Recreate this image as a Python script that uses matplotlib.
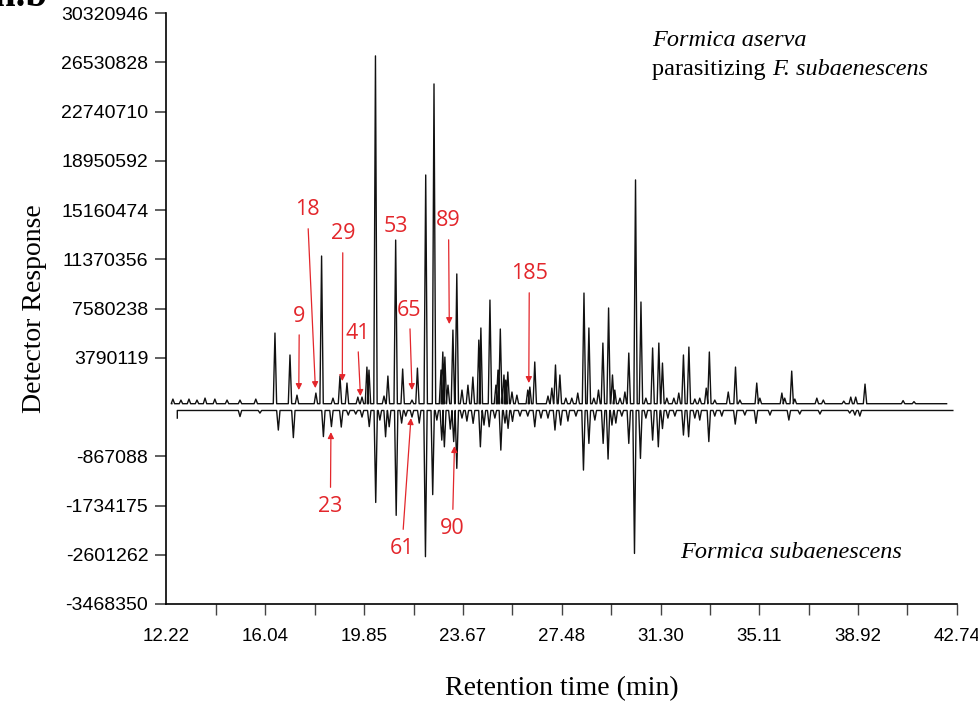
import matplotlib
matplotlib.use("Agg")
import matplotlib.pyplot as plt
import numpy as np

# retention time (min) and detector response of the peaks, upper trace
top_times = [12.47, 12.78, 13.09, 13.40, 13.71, 14.09, 14.56, 15.06, 15.67,
             16.41, 16.99, 17.26, 17.99, 18.21, 18.65, 18.92, 19.19, 19.61, 19.77,
             19.96, 20.04, 20.29, 20.62, 20.77, 21.07, 21.34, 21.70, 21.91, 22.23,
             22.55, 22.82, 22.89, 22.97, 23.09, 23.28, 23.43, 23.63, 23.86, 24.05,
             24.28, 24.36, 24.71, 24.94, 25.02, 25.11, 25.25, 25.32, 25.40, 25.56,
             25.75, 26.17, 26.25, 26.44, 26.95, 27.10, 27.24, 27.41, 27.64, 27.87,
             28.10, 28.34, 28.53, 28.72, 28.90, 29.07, 29.29, 29.44, 29.53, 29.73,
             29.92, 30.07, 30.33, 30.54, 30.73, 30.99, 31.23, 31.37, 31.54, 31.81,
             32.00, 32.18, 32.39, 32.62, 32.81, 33.06, 33.18, 33.39, 33.91, 34.19,
             34.36, 35.01, 35.13, 35.98, 36.09, 36.36, 36.48, 37.33, 37.58, 38.37,
             38.64, 38.83, 39.19, 40.66, 41.08]
top_resp = [616e3, 539e3, 616e3, 539e3, 693e3, 616e3, 539e3, 539e3, 616e3,
            5.70e6, 4.01e6, 0.92e6, 1.08e6, 11.63e6, 0.69e6, 2.39e6, 1.85e6, 0.77e6, 0.77e6,
            3.08e6, 2.85e6, 27.04e6, 0.85e6, 2.39e6, 12.86e6, 2.93e6, 0.54e6, 3.00e6, 17.87e6,
            24.88e6, 2.85e6, 4.24e6, 3.85e6, 1.69e6, 5.93e6, 10.25e6, 1.31e6, 1.69e6, 2.31e6,
            5.16e6, 6.09e6, 8.24e6, 1.69e6, 2.85e6, 6.01e6, 2.47e6, 2.08e6, 2.70e6, 1.16e6,
            0.92e6, 1.31e6, 1.54e6, 3.47e6, 0.85e6, 1.46e6, 3.24e6, 2.47e6, 0.69e6, 0.69e6,
            1.08e6, 8.78e6, 6.09e6, 0.69e6, 1.31e6, 4.93e6, 7.63e6, 2.47e6, 1.31e6, 0.69e6,
            1.16e6, 4.16e6, 17.49e6, 8.09e6, 0.69e6, 4.55e6, 4.93e6, 3.39e6, 0.69e6, 0.69e6,
            1.08e6, 4.01e6, 4.62e6, 0.62e6, 0.69e6, 1.46e6, 4.24e6, 0.54e6, 1.16e6, 3.08e6,
            0.54e6, 1.85e6, 0.69e6, 1.08e6, 0.69e6, 2.77e6, 0.62e6, 0.69e6, 0.54e6, 0.46e6,
            0.77e6, 0.77e6, 1.77e6, 0.50e6, 0.42e6]

# lower (mirrored) trace
bot_times = [15.06, 15.83, 16.54, 17.12, 18.28, 18.59, 18.97, 19.24, 19.53, 19.77,
             20.05, 20.30, 20.46, 20.68, 20.82, 21.09, 21.30, 21.46, 21.70, 21.98,
             22.22, 22.50, 22.66, 22.85, 22.95, 23.18, 23.31, 23.43, 23.63, 23.82,
             24.06, 24.34, 24.48, 24.68, 24.90, 25.13, 25.29, 25.41, 25.58, 25.87,
             26.17, 26.44, 26.68, 26.95, 27.22, 27.44, 27.72, 28.03, 28.32, 28.53,
             28.76, 29.08, 29.27, 29.42, 29.57, 29.80, 30.07, 30.29, 30.52, 30.73,
             30.99, 31.21, 31.37, 31.58, 31.85, 32.18, 32.38, 32.62, 32.81, 33.16,
             33.39, 33.66, 34.18, 34.55, 34.98, 35.52, 36.25, 36.67, 37.45, 38.60,
             38.80, 38.99]
bot_resp = [-167e3, -106e3, -405e3, -538e3, -520e3, -344e3, -352e3, -141e3, -123e3, -176e3,
            -344e3, -1680e3, -229e3, -523e3, -347e3, -1907e3, -282e3, -159e3, -176e3, -282e3,
            -2635e3, -1542e3, -229e3, -582e3, -700e3, -388e3, -608e3, -1079e3, -194e3, -247e3,
            -287e3, -700e3, -317e3, -347e3, -194e3, -758e3, -282e3, -375e3, -252e3, -159e3,
            -159e3, -347e3, -194e3, -194e3, -405e3, -317e3, -247e3, -159e3, -1110e3, -640e3,
            -229e3, -640e3, -916e3, -317e3, -282e3, -159e3, -640e3, -2578e3, -904e3, -194e3,
            -582e3, -700e3, -379e3, -194e3, -159e3, -493e3, -523e3, -194e3, -229e3, -608e3,
            -159e3, -159e3, -300e3, -141e3, -287e3, -141e3, -229e3, -123e3, -123e3, -106e3,
            -141e3, -159e3]

top_range = [12.43, 42.34]
bot_range = [12.64, 42.58]
top_base = 260e3
bot_base = -60e3

y_labels = ['30320946', '26530828', '22740710', '18950592', '15160474', '11370356',
            '7580238', '3790119', '-867088', '-1734175', '-2601262', '-3468350']
x_labels = ['12.22', '16.04', '19.85', '23.67', '27.48', '31.30', '35.11', '38.92', '42.74']

# compound labels: text, tip time, tip response, text time, text response
ann_text = ['9', '18', '29', '41', '65', '89', '185', '23', '61', '90']
ann_tip_t = [17.33, 17.97, 19.01, 19.71, 21.70, 23.14, 26.21, 18.57, 21.66, 23.34]
ann_tip_r = [1.31e6, 1.46e6, 2.00e6, 0.85e6, 1.31e6, 6.39e6, 1.85e6, -441e3, -194e3, -687e3]
ann_txt_t = [17.35, 17.66, 19.03, 19.59, 21.60, 23.11, 26.23, 18.55, 21.31, 23.26]
ann_txt_r = [7.01e6, 15.18e6, 13.33e6, 5.70e6, 7.47e6, 14.33e6, 10.25e6, -1.745e6, -2.485e6, -2.133e6]
lone_text = ('53', 21.08, 13.87e6)

RED = '#e3262b'
TOP_UNIT = 30320946 / 8
BOT_UNIT = 3468350 / 4


def fwd(y):
    y = np.asarray(y, dtype=float)
    return np.where(y >= 0, y / TOP_UNIT, y / BOT_UNIT)


def inv(u):
    u = np.asarray(u, dtype=float)
    return np.where(u >= 0, u * TOP_UNIT, u * BOT_UNIT)


def trace(times, resp, base, t0, t1, hw=0.065, start=None):
    xs, ys = [t0], [base if start is None else start]
    if start is not None:
        xs.append(t0)
        ys.append(base)
    for t, r in zip(times, resp):
        xs += [t - hw, t, t + hw]
        ys += [base, r, base]
    xs.append(t1)
    ys.append(base)
    return xs, ys


fig = plt.figure(figsize=(9.79, 7.06), dpi=100)
ax = fig.add_axes([0.170, 0.1445, 0.8075, 0.8367])
ax.set_yscale('function', functions=(fwd, inv))

x1, y1 = trace(top_times, top_resp, top_base, *top_range)
x2, y2 = trace(bot_times, bot_resp, bot_base, *bot_range, start=-194e3)
ax.plot(x1, y1, color='#111111', lw=1.0)
ax.plot(x2, y2, color='#111111', lw=1.0)

ax.set_xlim(12.22, 42.74)
ax.set_ylim(-3468350, 30320946)

for s in ['top', 'right']:
    ax.spines[s].set_visible(False)
for s in ['left', 'bottom']:
    ax.spines[s].set_linewidth(1.2)

ax.set_yticks([int(v) for v in y_labels])
ax.set_yticklabels(y_labels)
xv = [float(v) for v in x_labels]
ax.set_xticks(xv)
ax.set_xticklabels(x_labels)
ax.set_xticks(list(np.array(xv[:-1]) + np.diff(xv) / 2), minor=True)
ax.tick_params(axis='y', length=8, width=1.2, color='#444444', pad=5,
               labelsize=14, labelfontfamily='Liberation Sans')
ax.tick_params(axis='x', which='both', length=8, width=1.0, color='#444444', pad=9,
               labelsize=13.5, labelfontfamily='Liberation Sans')
ax.xaxis.get_major_ticks()[0].tick1line.set_visible(False)

ax.set_ylabel('Detector Response', fontsize=20, family='Liberation Serif', labelpad=10)
ax.set_xlabel('Retention time (min)', fontsize=20, family='Liberation Serif', labelpad=23)

for lab, tt, tr, xt, xr in zip(ann_text, ann_tip_t, ann_tip_r, ann_txt_t, ann_txt_r):
    ax.annotate(lab, xy=(tt, tr), xytext=(xt, xr), ha='center', va='center',
                color=RED, fontsize=15.5, family='Open Sans',
                arrowprops=dict(arrowstyle='-|>', color=RED, lw=0.9,
                                mutation_scale=9, shrinkA=4, shrinkB=0))
ax.text(lone_text[1], lone_text[2], lone_text[0], ha='center', va='center',
        color=RED, fontsize=15.5, family='Open Sans')

fig.text(0.666, 0.943, 'Formica aserva', fontsize=17.5, family='Liberation Serif',
         style='italic', ha='left', va='center')
t1 = fig.text(0.666, 0.901, 'parasitizing ', fontsize=17.5, family='Liberation Serif',
              ha='left', va='center')
fig.canvas.draw()
bb = t1.get_window_extent().transformed(fig.transFigure.inverted())
fig.text(bb.x1, 0.901, 'F. subaenescens', fontsize=17.5, family='Liberation Serif',
         style='italic', ha='left', va='center')
fig.text(0.808, 0.217, 'Formica subaenescens', fontsize=17.5, family='Liberation Serif',
         style='italic', ha='center', va='center')
fig.text(-0.006, 1 - 6 / 706, 'n.b', fontsize=28, family='Liberation Serif',
         fontweight='bold', ha='left', va='baseline')

fig.savefig('out.png', dpi=100)
